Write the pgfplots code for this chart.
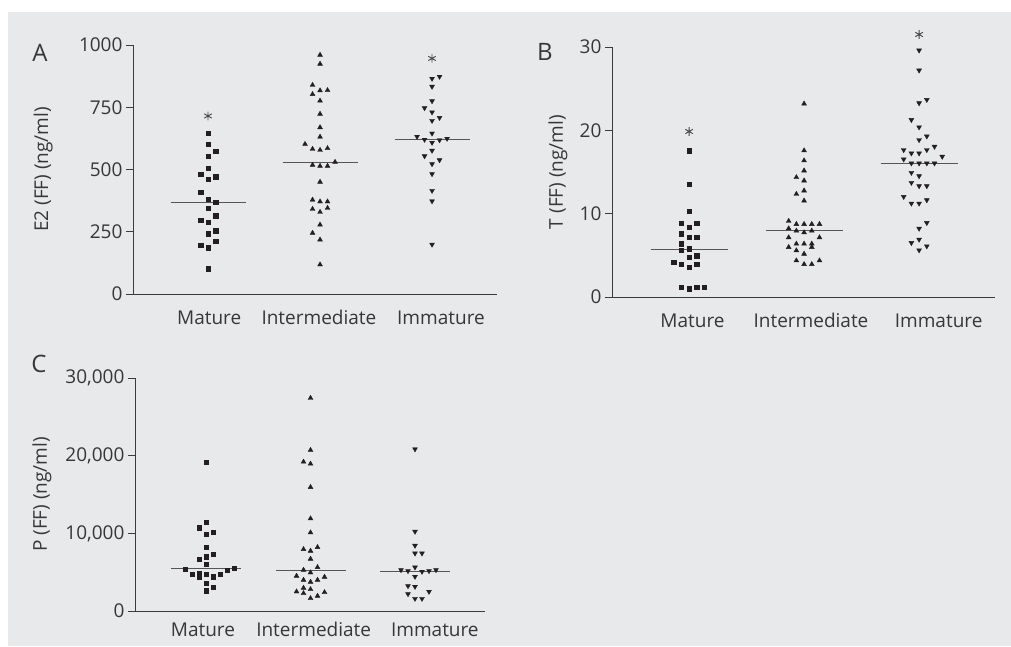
\documentclass[border=0pt]{standalone}
\usepackage{pgfplots}
\pgfplotsset{compat=1.18}
\usepackage{pgfplotstable}
\usepackage{fontspec}
\setmainfont{Open Sans}
\usetikzlibrary{plotmarks}
\definecolor{bgcol}{RGB}{232,233,235}
\definecolor{txtcol}{RGB}{55,55,55}
\definecolor{axcol}{RGB}{60,60,60}
\definecolor{markcol}{RGB}{35,31,32}
\definecolor{medcol}{RGB}{85,85,85}
\definecolor{astcol}{RGB}{70,70,70}

% columns: k = horizontal offset step within a category, y = value
\pgfplotstableread{
k y
0 645
0 602
1 574
0 554
0 506
-1 482
1 471
0 460
-1 408
0 381
1 368
0 345
1 315
-1 296
0 288
1 254
0 242
1 213
-1 197
0 186
0 102
}\AMat
\pgfplotstableread{
k y
0 960
0 924
-1 839
-1 802
0 817
1 818
0 776
0 723
0 669
0 631
-2 602
-1 582
0 578
1 585
2 530
-1 518
0 514
1 514
0 450
-1 378
0 371
1 371
-1 341
0 329
1 345
0 278
-1 245
0 218
0 118
}\AInt
\pgfplotstableread{
k y
0 865
1 873
0 833
0 775
-1 747
0 730
1 708
0 696
0 645
-2 632
-1 620
0 608
1 618
2 624
0 576
-1 554
1 538
0 522
0 482
0 415
0 373
0 199
}\AImm
\pgfplotstableread{
k y
0 17.57
0 13.56
0 10.31
-1 8.82
1 8.82
0 8.38
-1 7.58
0 7.18
1 7.18
-1 6.38
0 5.78
-1 5.58
1 4.97
0 4.77
-2 4.17
-1 3.97
1 3.97
0 3.57
-1 1.20
0 1.00
1 1.20
2 1.20
}\BMat
\pgfplotstableread{
k y
0 23.19
0 17.57
0 16.37
0 15.16
-1 14.36
0 13.96
-1 12.35
0 12.76
0 11.55
-2 9.11
-1 8.74
0 8.74
1 8.74
2 8.74
-2 8.22
-1 7.94
0 7.74
1 7.94
-2 7.14
2 7.14
-1 6.38
0 6.38
1 6.38
-2 5.98
1 5.98
-1 5.58
0 5.17
-1 4.37
0 3.93
1 3.93
2 4.37
}\BInt
\pgfplotstableread{
k y
0 29.6
0 27.2
0 23.27
1 23.67
-1 21.26
0 20.38
1 19.29
0 18.85
2 18.05
-2 17.65
-1 17.25
0 17.25
1 17.65
3 16.85
-2 16.53
-1 16.05
0 16.05
1 16.05
2 16.05
-1 14.92
0 14.52
-1 13.72
0 13.32
1 13.32
-2 12.03
-1 11.23
0 11.23
1 11.63
1 8.90
0 8.22
0 6.90
-1 6.50
1 6.10
0 5.62
}\BImm
\pgfplotstableread{
k y
0 19166
0 11431
-1 10744
1 10142
0 9884
0 8251
1 7349
0 7005
-1 6704
0 6016
-3 5415
4 5501
3 5286
-1 4856
-2 4770
0 4770
2 4770
-1 4426
1 4426
0 3610
1 3094
0 2621
}\CMat
\pgfplotstableread{
k y
0 27418
0 20713
-1 19209
0 18951
0 15943
0 11904
0 10099
-1 7950
0 7735
1 8208
0 6704
1 5630
-1 5286
0 4942
-2 4512
2 4383
-1 3997
1 3997
0 3739
-1 2965
0 2793
-2 2493
-1 2278
2 2407
1 1934
0 1633
}\CInt
\pgfplotstableread{
k y
0 20842
0 10228
0 8423
0 7435
1 7435
0 5630
-2 5286
-1 5157
1 5071
2 5157
3 5286
0 4426
-1 3223
0 3137
2 2493
-1 2192
0 1590
1 1590
}\CImm

\pgfplotsset{
  panel/.style={
    scale only axis,
    axis lines=left,
    axis line style={draw=axcol, line width=0.9pt, -},
    clip=false,
    ymin=0,
    xticklabels={Mature,Intermediate,Immature},
    major x tick style={draw=none},
    major y tick style={draw=axcol, line width=0.9pt},
    tick align=outside,
    major tick length=7pt,
    tick label style={font=\fontsize{19}{22}\selectfont, text=txtcol},
    /pgf/number format/assume math mode=true,
    ylabel style={font=\fontsize{19}{22}\selectfont, text=txtcol, anchor=center},
  },
  sq/.style={only marks, mark=square*, mark size=2.2pt, color=markcol},
  tu/.style={only marks, mark=triangle*, mark size=2.8pt, color=markcol},
  td/.style={only marks, mark=triangle*, mark size=2.8pt, color=markcol, mark options={rotate=180}},
  med/.style={no marks, draw=medcol, line width=1pt},
  ast/.style={only marks, mark=asterisk, mark size=4.3pt, color=astcol, mark options={line width=0.9pt}},
}

\begin{document}
\begin{tikzpicture}
\fill[white] (0pt,0pt) rectangle (1011pt,646pt);
\fill[bgcol] (8pt,0pt) rectangle (1011pt,634pt);

% Panel A
\begin{axis}[panel, at={(133pt,352pt)}, anchor=south west,
  width=364pt, height=249pt, xmin=-0.67, xmax=2.58, ymax=1000,
  xtick={0.01,0.99,2.08},
  xticklabel style={yshift=-6pt},
  ytick={0,250,500,750,1000},
  yticklabel style={/pgf/number format/1000 sep={}},
  ylabel={E2 (FF) (ng/ml)},
  ylabel style={at={(axis description cs:-0.247,0.5)}}]
\addplot[sq] table[x expr=0+0.067*\thisrow{k}, y=y] {\AMat};
\addplot[tu] table[x expr=1+0.067*\thisrow{k}, y=y] {\AInt};
\addplot[td] table[x expr=2+0.067*\thisrow{k}, y=y] {\AImm};
\addplot[med] coordinates {(-0.335,368) (0.335,368)};
\addplot[med] coordinates {(0.665,530) (1.335,530)};
\addplot[med] coordinates {(1.665,620) (2.335,620)};
\addplot[ast] coordinates {(0,715) (2,946)};
\end{axis}

% Panel B
\begin{axis}[panel, at={(612pt,349pt)}, anchor=south west,
  width=383pt, height=250pt, xmin=-0.67, xmax=2.66, ymax=30,
  xtick={0.03,1.06,2.17},
  xticklabel style={yshift=-6pt},
  ytick={0,10,20,30},
  ylabel={T (FF) (ng/ml)},
  ylabel style={at={(axis description cs:-0.141,0.5)}}]
\addplot[sq] table[x expr=0+0.067*\thisrow{k}, y=y] {\BMat};
\addplot[tu] table[x expr=1+0.067*\thisrow{k}, y=y] {\BInt};
\addplot[td] table[x expr=2+0.067*\thisrow{k}, y=y] {\BImm};
\addplot[med] coordinates {(-0.335,5.70) (0.335,5.70)};
\addplot[med] coordinates {(0.665,7.94) (1.335,7.94)};
\addplot[med] coordinates {(1.665,16.05) (2.335,16.05)};
\addplot[ast] coordinates {(0,19.86) (2,31.5)};
\end{axis}

% Panel C
\begin{axis}[panel, at={(135pt,35pt)}, anchor=south west,
  width=350pt, height=233pt, xmin=-0.68, xmax=2.67, ymax=30000,
  xtick={-0.03,1.03,2.19},
  xticklabel style={yshift=-1pt},
  ytick={0,10000,20000,30000},
  scaled y ticks=false,
  yticklabel style={/pgf/number format/fixed, /pgf/number format/1000 sep={,}},
  ylabel={P (FF) (ng/ml)},
  ylabel style={at={(axis description cs:-0.266,0.5)}}]
\addplot[sq] table[x expr=0+0.067*\thisrow{k}, y=y] {\CMat};
\addplot[tu] table[x expr=1+0.067*\thisrow{k}, y=y] {\CInt};
\addplot[td] table[x expr=2+0.067*\thisrow{k}, y=y] {\CImm};
\addplot[med] coordinates {(-0.335,5415) (0.335,5415)};
\addplot[med] coordinates {(0.665,5157) (1.335,5157)};
\addplot[med] coordinates {(1.665,5114) (2.335,5114)};
\end{axis}

\node[font=\fontsize{24}{28}\selectfont, text=txtcol] at (40pt,593pt) {A};
\node[font=\fontsize{24}{28}\selectfont, text=txtcol] at (545pt,594pt) {B};
\node[font=\fontsize{24}{28}\selectfont, text=txtcol] at (39pt,282pt) {C};
\end{tikzpicture}
\end{document}
